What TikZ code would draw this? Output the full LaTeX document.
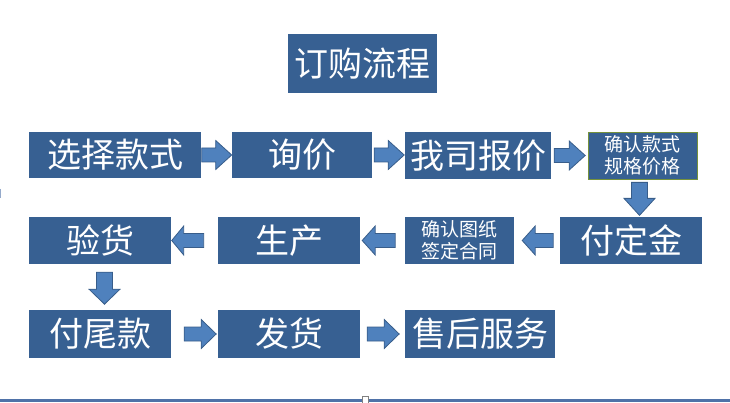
\documentclass[tikz,border=0pt]{standalone}
\usepackage{fontspec}
\newfontfamily\cjk{Noto Sans CJK SC}
\usetikzlibrary{calc}
\definecolor{boxblue}{HTML}{376092}
\definecolor{arrfill}{HTML}{4F81BD}
\definecolor{arrline}{HTML}{385D8A}
\definecolor{olive}{HTML}{76923C}
\definecolor{rulecol}{HTML}{4F72A8}
\tikzset{
  box/.style={fill=boxblue, draw=none, text=white, inner sep=0pt, align=center},
  bigtext/.style={font=\cjk\fontsize{34}{38}\selectfont},
  smalltext/.style={font=\cjk\fontsize{19}{22}\selectfont},
  barrow/.style={fill=arrfill, draw=arrline, line width=0.8pt, line join=miter}
}
\newcommand\rarr[3]{\draw[barrow] (#1) ++(0,-7) -- ++({#2-#3},0) -- ++(0,-7.5) -- ++(#3,14.5) -- ++(-#3,14.5) -- ++(0,-7.5) -- ++({-(#2-#3)},0) -- cycle;}
\newcommand\larr[3]{\draw[barrow] (#1) -- ++(#3,-14.5) -- ++(0,7.5) -- ++({#2-#3},0) -- ++(0,14) -- ++({-(#2-#3)},0) -- ++(0,7.5) -- cycle;}
\newcommand\darr[3]{\draw[barrow] (#1) ++(-8,0) -- ++(0,{#2-#3}) -- ++(-7.5,0) -- ++(15.5,#3) -- ++(15.5,-#3) -- ++(-7.5,0) -- ++(0,{-(#2-#3)}) -- cycle;}
\begin{document}
\begin{tikzpicture}[x=1pt,y=-1pt]
\useasboundingbox (0,0) rectangle (730,403);
% title
\node[box, bigtext, minimum width=149pt, minimum height=59pt] (title) at (362.5,63.5) {订购流程};
% row 1
\node[box, bigtext, minimum width=172pt, minimum height=46pt] (b1) at (115,155) {选择款式};
\node[box, bigtext, minimum width=140pt, minimum height=46pt] (b2) at (302,155) {询价};
\node[box, bigtext, minimum width=146pt, minimum height=47pt] (b3) at (478,155.5) {我司报价};
\node[box, smalltext, draw=olive, line width=0.8pt, minimum width=109pt, minimum height=47pt] (b4) at (642.5,155.5) {确认款式\\规格价格};
% row 2
\node[box, bigtext, minimum width=142pt, minimum height=47pt] (c1) at (100,240.5) {验货};
\node[box, bigtext, minimum width=142pt, minimum height=47pt] (c2) at (289,240.5) {生产};
\node[box, smalltext, minimum width=109pt, minimum height=47pt] (c3) at (459.5,240.5) {确认图纸\\签定合同};
\node[box, bigtext, minimum width=142pt, minimum height=47pt] (c4) at (631,240.5) {付定金};
% row 3
\node[box, bigtext, minimum width=142pt, minimum height=48pt] (d1) at (100,334) {付尾款};
\node[box, bigtext, minimum width=142pt, minimum height=48pt] (d2) at (289,334) {发货};
\node[box, bigtext, minimum width=150pt, minimum height=48pt] (d3) at (480,334) {售后服务};
% arrows
\rarr{$(b1.east)+(0.5,0)$}{30}{16}
\rarr{$(b2.east)+(2,0)$}{30}{16}
\rarr{$(b3.east)+(3,0)$}{31}{16}
\darr{$(b4.south)+(-3,3)$}{33}{17}
\larr{$(c3.east)+(8,0)$}{31}{13}
\larr{$(c2.east)+(2,0)$}{33}{13}
\larr{$(c1.east)+(0.5,0)$}{32}{12}
\darr{$(c1.south)+(4.5,8)$}{32}{15}
\rarr{$(d1.east)+(13,0)$}{32}{15}
\rarr{$(d2.east)+(7,0)$}{32}{15}
% bottom rule
\coordinate (bl) at (0,400.5);
\coordinate (br) at (730,400.5);
\draw[draw=rulecol, line width=3pt] (bl) -- (br);
\node[draw=gray, fill=white, line width=0.6pt, minimum width=6pt, minimum height=7pt, inner sep=0pt] (tick) at (365.5,400) {};
\coordinate (m1) at (0.6,189);
\coordinate (m2) at (0.6,198);
\draw[draw=rulecol!60, line width=1.2pt] (m1) -- (m2);
\end{tikzpicture}
\end{document}
